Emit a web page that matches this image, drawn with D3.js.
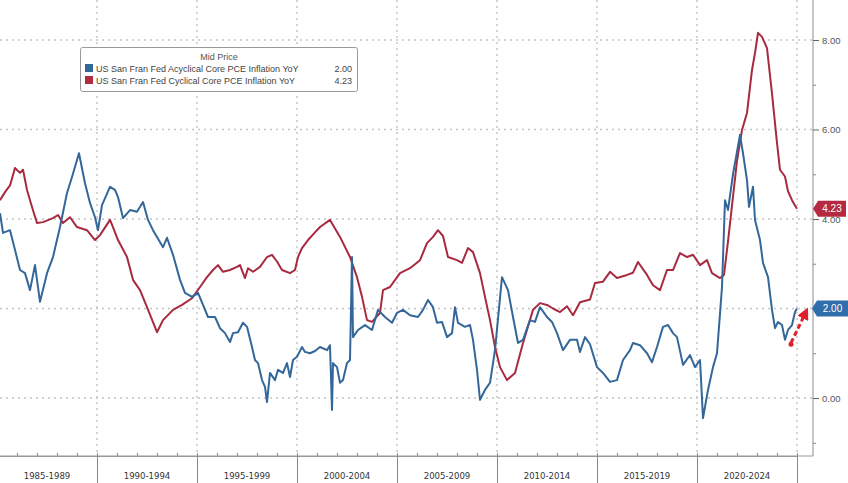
<!DOCTYPE html>
<html>
<head>
<meta charset="utf-8">
<script src="https://cdn.jsdelivr.net/npm/d3@7"></script>
<style>
  html, body { margin: 0; padding: 0; background: #fff; }
  svg { display: block; font-family: "Liberation Sans", Arial, sans-serif; }
</style>
</head>
<body>
<svg id="chart" width="848" height="483"></svg>
<script>
// ---- data (decimal year, YoY %) ----
const periodLabels = ["1985-1989","1990-1994","1995-1999","2000-2004","2005-2009","2010-2014","2015-2019","2020-2024"];
const periodStarts = [1985,1990,1995,2000,2005,2010,2015,2020,2025];
const yTicks = [0, 2, 4, 6, 8];
const yMinorTicks = [-1, 1, 3, 5, 7];
const seriesNames = ["US San Fran Fed Acyclical Core PCE Inflation YoY", "US San Fran Fed Cyclical Core PCE Inflation YoY"];
const lastValues = [2.00, 4.23];

const acyclical = [
[1985.15,4.13],[1985.30,3.69],[1985.65,3.75],[1985.90,3.31],[1986.15,2.86],[1986.40,2.79],[1986.65,2.41],[1986.90,2.97],
[1987.15,2.15],[1987.50,2.79],[1987.80,3.15],[1988.15,3.82],[1988.50,4.58],[1988.75,4.94],[1989.10,5.47],[1989.40,4.80],
[1989.65,4.36],[1989.90,4.04],[1990.05,3.75],[1990.25,4.31],[1990.65,4.72],[1990.90,4.65],[1991.05,4.49],[1991.30,4.02],
[1991.65,4.20],[1992.00,4.16],[1992.30,4.38],[1992.55,3.98],[1992.80,3.75],[1993.30,3.37],[1993.50,3.58],[1993.80,3.20],
[1994.15,2.64],[1994.40,2.35],[1994.75,2.26],[1995.05,2.35],[1995.30,2.08],[1995.55,1.81],[1995.90,1.81],[1996.15,1.56],
[1996.40,1.45],[1996.65,1.25],[1996.80,1.45],[1997.05,1.47],[1997.30,1.68],[1997.50,1.59],[1997.75,1.14],[1997.90,0.85],
[1998.05,0.78],[1998.25,0.40],[1998.40,0.25],[1998.50,-0.09],[1998.65,0.56],[1998.90,0.40],[1999.05,0.63],[1999.30,0.56],
[1999.50,0.78],[1999.65,0.47],[1999.80,0.85],[2000.00,0.92],[2000.25,1.14],[2000.40,1.03],[2000.65,1.00],[2000.90,1.05],
[2001.15,1.14],[2001.50,1.07],[2001.65,1.18],[2001.75,-0.27],[2001.80,0.78],[2002.00,0.69],[2002.15,0.34],[2002.30,0.40],
[2002.50,0.78],[2002.65,0.85],[2002.75,3.15],[2002.80,1.36],[2003.05,1.52],[2003.40,1.63],[2003.75,1.52],[2004.05,1.97],
[2004.40,1.81],[2004.75,1.68],[2005.00,1.90],[2005.30,1.97],[2005.65,1.85],[2006.05,1.81],[2006.30,1.97],[2006.55,2.19],
[2006.80,2.03],[2007.00,1.68],[2007.25,1.70],[2007.50,1.36],[2007.75,1.45],[2007.90,2.03],[2008.05,1.68],[2008.40,1.59],
[2008.65,1.63],[2008.80,1.30],[2009.00,0.63],[2009.15,-0.04],[2009.40,0.18],[2009.65,0.34],[2009.90,1.07],[2010.25,2.70],
[2010.55,2.41],[2010.80,1.81],[2011.05,1.23],[2011.30,1.30],[2011.65,1.74],[2011.90,1.70],[2012.15,2.03],[2012.50,1.81],
[2012.75,1.70],[2013.00,1.45],[2013.30,1.07],[2013.65,1.30],[2014.00,1.30],[2014.15,1.03],[2014.40,1.36],[2014.65,1.20],
[2015.00,0.69],[2015.30,0.56],[2015.65,0.36],[2016.00,0.40],[2016.30,0.85],[2016.65,1.07],[2016.80,1.23],[2017.15,1.18],
[2017.50,1.00],[2017.75,0.80],[2018.00,1.14],[2018.30,1.59],[2018.55,1.63],[2018.80,1.45],[2019.00,1.36],[2019.30,0.74],
[2019.65,0.96],[2019.90,0.69],[2020.15,0.85],[2020.30,-0.45],[2020.55,0.18],[2020.80,0.69],[2021.00,1.00],[2021.25,2.48],
[2021.40,4.42],[2021.55,4.20],[2021.80,5.00],[2022.15,5.88],[2022.30,5.47],[2022.50,4.87],[2022.60,4.27],[2022.80,4.72],
[2022.90,3.98],[2023.15,3.53],[2023.30,3.02],[2023.55,2.70],[2023.75,1.97],[2023.90,1.56],[2024.05,1.70],[2024.25,1.63],
[2024.40,1.30],[2024.55,1.52],[2024.75,1.63],[2024.90,1.92],[2025.00,2.00]
];

const cyclical = [
[1985.15,4.42],[1985.40,4.60],[1985.65,4.75],[1985.90,5.14],[1986.15,5.03],[1986.30,5.10],[1986.50,4.65],[1986.75,4.27],
[1987.00,3.91],[1987.30,3.93],[1987.80,4.02],[1988.05,4.09],[1988.30,3.91],[1988.65,4.04],[1989.00,3.82],[1989.50,3.75],
[1989.90,3.53],[1990.15,3.64],[1990.65,3.98],[1990.80,3.82],[1991.05,3.53],[1991.50,3.15],[1991.80,2.64],[1992.15,2.41],
[1992.50,2.03],[1993.00,1.47],[1993.30,1.74],[1993.80,1.97],[1994.25,2.08],[1994.75,2.23],[1995.15,2.48],[1995.50,2.70],
[1995.80,2.86],[1996.05,2.97],[1996.30,2.82],[1996.65,2.86],[1997.00,2.93],[1997.15,2.97],[1997.40,2.68],[1997.55,2.90],
[1997.80,2.82],[1998.15,2.93],[1998.50,3.15],[1998.75,3.20],[1999.00,3.05],[1999.25,2.86],[1999.65,2.79],[1999.90,2.86],
[2000.05,3.15],[2000.25,3.35],[2000.55,3.53],[2000.90,3.70],[2001.15,3.82],[2001.65,3.98],[2002.15,3.60],[2002.65,3.15],
[2003.00,2.70],[2003.25,2.26],[2003.50,1.74],[2003.75,1.70],[2004.15,1.90],[2004.30,2.41],[2004.65,2.48],[2005.15,2.79],
[2005.65,2.90],[2006.15,3.08],[2006.50,3.46],[2006.80,3.60],[2007.05,3.75],[2007.30,3.62],[2007.55,3.15],[2008.00,3.08],
[2008.25,3.02],[2008.55,3.35],[2008.80,3.26],[2009.15,2.79],[2009.40,2.26],[2009.65,1.74],[2009.90,1.14],[2010.15,0.69],
[2010.50,0.40],[2010.90,0.56],[2011.30,1.23],[2011.80,1.97],[2012.15,2.12],[2012.50,2.08],[2012.80,2.00],[2013.15,1.92],
[2013.50,2.05],[2013.80,1.85],[2014.15,2.14],[2014.65,2.20],[2014.90,2.57],[2015.30,2.60],[2015.65,2.82],[2016.00,2.68],
[2016.50,2.75],[2016.80,2.80],[2017.05,3.04],[2017.50,2.75],[2017.80,2.52],[2018.15,2.41],[2018.50,2.86],[2018.80,2.86],
[2019.15,3.24],[2019.50,3.15],[2019.80,3.20],[2020.15,2.97],[2020.50,3.08],[2020.75,2.79],[2021.15,2.68],[2021.35,2.75],
[2021.55,3.50],[2021.80,4.50],[2022.00,5.30],[2022.25,5.99],[2022.50,6.37],[2022.75,7.33],[2022.90,7.71],[2023.05,8.16],
[2023.25,8.07],[2023.50,7.82],[2023.75,6.80],[2024.00,5.70],[2024.15,5.10],[2024.40,4.95],[2024.55,4.62],[2024.75,4.42],
[2024.90,4.30],[2025.00,4.23]
];

// ---- layout ----
const svg = d3.select("#chart");
const plotRight = 813, plotBottom = 456, plotTop = 0, plotLeft = 0;
const blue = "#33679a", red = "#a82a40";
const x = d3.scaleLinear().domain([1985, 2025]).range([-3, 797]);
const y = d3.scaleLinear().domain([0, 8]).range([398, 40]);

svg.append("defs").append("clipPath").attr("id", "clip")
  .append("rect").attr("x", plotLeft).attr("y", plotTop)
  .attr("width", plotRight - plotLeft).attr("height", plotBottom - plotTop);

// grid
const grid = svg.append("g");
grid.selectAll("line.h").data(yTicks).join("line")
  .attr("x1", plotLeft).attr("x2", plotRight)
  .attr("y1", d => y(d)).attr("y2", d => y(d))
  .attr("stroke", "#c4c4c4").attr("stroke-width", 1.4).attr("stroke-dasharray", "2,4");
grid.selectAll("line.v").data(periodStarts.slice(1)).join("line")
  .attr("x1", d => x(d)).attr("x2", d => x(d))
  .attr("y1", plotTop).attr("y2", plotBottom)
  .attr("stroke", "#c4c4c4").attr("stroke-width", 1.4).attr("stroke-dasharray", "2,4");

// lines
const line = d3.line().x(d => x(d[0])).y(d => y(d[1]));
const lines = svg.append("g").attr("clip-path", "url(#clip)");
lines.append("path").datum(cyclical).attr("d", line)
  .attr("fill", "none").attr("stroke", red).attr("stroke-width", 2).attr("stroke-linejoin", "round");
lines.append("path").datum(acyclical).attr("d", line)
  .attr("fill", "none").attr("stroke", blue).attr("stroke-width", 2).attr("stroke-linejoin", "round");

// frame
svg.append("line").attr("x1", plotRight).attr("x2", plotRight).attr("y1", 0).attr("y2", plotBottom)
  .attr("stroke", "#a0a0a0").attr("stroke-width", 1.2);

// right axis (the 2.00 label sits under the last-value badge, as in the original)
const yAxis = d3.axisRight(y).tickValues(yTicks).tickSize(6).tickPadding(3)
  .tickFormat(d => d === 2 ? "" : d3.format(".2f")(d));
const ya = svg.append("g").attr("transform", `translate(${plotRight},0)`).call(yAxis);
ya.select(".domain").remove();
ya.selectAll("line").attr("stroke", "#666");
ya.selectAll("text").attr("fill", "#555").attr("font-size", 9.5);
const yMinor = svg.append("g").attr("transform", `translate(${plotRight},0)`)
  .call(d3.axisRight(y).tickValues(yMinorTicks).tickSize(3).tickFormat(""));
yMinor.select(".domain").remove();
yMinor.selectAll("line").attr("stroke", "#888");

// bottom axis
const years = d3.range(1985, 2026);
const xMinor = svg.append("g").attr("transform", `translate(0,${plotBottom})`)
  .call(d3.axisBottom(x).tickValues(years).tickSize(-3).tickFormat(""));
xMinor.select(".domain").attr("stroke", "#999");
xMinor.selectAll("line").attr("stroke", "#888");
svg.append("line").attr("x1", 0).attr("x2", plotRight).attr("y1", plotBottom).attr("y2", plotBottom)
  .attr("stroke", "#999").attr("stroke-width", 1.2);
const xMajor = svg.append("g").attr("transform", `translate(0,${plotBottom})`)
  .call(d3.axisBottom(x).tickValues(periodStarts).tickSize(27).tickFormat(""));
xMajor.select(".domain").remove();
xMajor.selectAll("line").attr("stroke", "#888");
svg.append("g").selectAll("text").data(periodLabels).join("text")
  .attr("x", (d, i) => (x(periodStarts[i]) + x(periodStarts[i + 1])) / 2)
  .attr("y", 479).attr("text-anchor", "middle")
  .attr("font-size", 9.5).attr("fill", "#333")
  .attr("font-family", "'Liberation Sans Narrow', 'DejaVu Sans Condensed', 'Liberation Sans', sans-serif")
  .text(d => d);

// value badges
function badge(v, color, x0, x1) {
  const cy = y(v), h = 16;
  const g = svg.append("g");
  g.append("path").attr("d",
    `M${x0},${cy} L${x0 + 5},${cy - h / 2} L${x1},${cy - h / 2} L${x1},${cy + h / 2} L${x0 + 5},${cy + h / 2} Z`)
    .attr("fill", color);
  g.append("text").attr("x", (x0 + 5 + x1) / 2).attr("y", cy + 3.5).attr("text-anchor", "middle")
    .attr("font-size", 10).attr("fill", "#fff").text(d3.format(".2f")(v));
}
badge(lastValues[1], "#b52a40", 813, 846);
badge(lastValues[0], "#2f6dab", 812, 848);

// annotation arrow
const defs = svg.select("defs");
defs.append("marker").attr("id", "ah").attr("viewBox", "0 0 10 10").attr("refX", 5).attr("refY", 5)
  .attr("markerWidth", 4).attr("markerHeight", 4).attr("orient", "auto")
  .append("path").attr("d", "M0,0 L10,5 L0,10 Z").attr("fill", "#e0202a");
svg.append("line").attr("x1", x(2024.7)).attr("y1", y(1.23)).attr("x2", x(2025.42)).attr("y2", y(1.9))
  .attr("stroke", "#e0202a").attr("stroke-width", 3).attr("stroke-dasharray", "5,3")
  .attr("marker-end", "url(#ah)");
svg.append("circle").attr("cx", x(2024.7)).attr("cy", y(1.2)).attr("r", 2.5).attr("fill", "#e0202a");

// legend
const lg = svg.append("g");
lg.append("rect").attr("x", 80.5).attr("y", 47.5).attr("width", 277).attr("height", 44).attr("rx", 2)
  .attr("fill", "#fff").attr("stroke", "#9a9a9a");
lg.append("text").attr("x", 219).attr("y", 60).attr("text-anchor", "middle")
  .attr("font-size", 9).attr("fill", "#555").text("Mid Price");
const colors = [blue, "#b52a40"];
seriesNames.forEach((name, i) => {
  const ty = 72 + i * 12;
  lg.append("rect").attr("x", 85).attr("y", ty - 8).attr("width", 8).attr("height", 8).attr("fill", colors[i]);
  lg.append("text").attr("x", 96).attr("y", ty).attr("font-size", 9).attr("fill", "#444").text(name);
  lg.append("text").attr("x", 352).attr("y", ty).attr("text-anchor", "end")
    .attr("font-size", 9).attr("fill", "#444").text(d3.format(".2f")(lastValues[i]));
});
</script>
</body>
</html>
